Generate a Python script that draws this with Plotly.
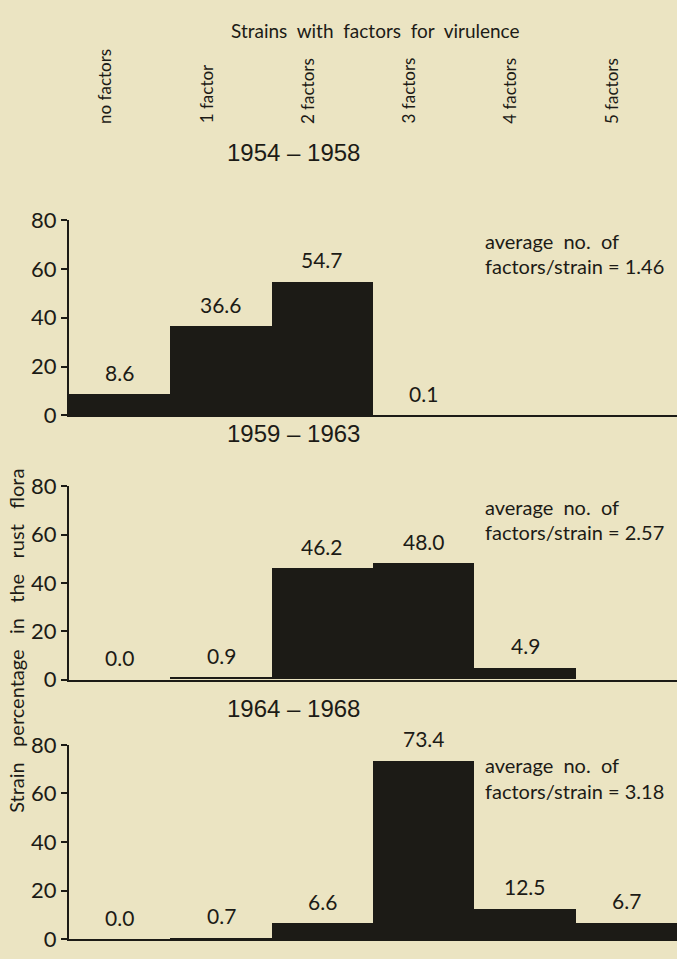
import plotly.graph_objects as go

# ---- data ----
categories = ["no factors", "1 factor", "2 factors", "3 factors", "4 factors", "5 factors"]
periods = ["1954 – 1958", "1959 – 1963", "1964 – 1968"]
values_1954_1958 = [8.6, 36.6, 54.7, 0.1, 0.0, 0.0]
values_1959_1963 = [0.0, 0.9, 46.2, 48.0, 4.9, 0.0]
values_1964_1968 = [0.0, 0.7, 6.6, 73.4, 12.5, 6.7]
value_labels_1954_1958 = ["8.6", "36.6", "54.7", "0.1", "", ""]
value_labels_1959_1963 = ["0.0", "0.9", "46.2", "48.0", "4.9", ""]
value_labels_1964_1968 = ["0.0", "0.7", "6.6", "73.4", "12.5", "6.7"]
averages = ["1.46", "2.57", "3.18"]
y_ticks = [0, 20, 40, 60, 80]

series = [values_1954_1958, values_1959_1963, values_1964_1968]
labels = [value_labels_1954_1958, value_labels_1959_1963, value_labels_1964_1968]

W, H = 677, 959
L = 69
PW = W - L


def fx(px):
    return (px - L) / PW


def fy(py):
    return (H - py) / H


BG = "#ebe4c2"
INK = "#1c1b16"
FONT = "Lato, 'Noto Sans', sans-serif"
YEARFONT = "'Liberation Sans', Arial, sans-serif"

# pixel positions of y=0 and y=80 for each panel
panels_px = [(413, 212), (685, 486), (952, 752)]
title_py = [143, 432, 715]

fig = go.Figure()
centers = [i + 0.5 for i in range(len(categories))]

for k, vals in enumerate(series):
    xa = "x" if k == 0 else f"x{k+1}"
    ya = "y" if k == 0 else f"y{k+1}"
    fig.add_trace(go.Bar(
        x=centers, y=vals, width=1.0,
        marker=dict(color=INK, line=dict(width=0)),
        xaxis=xa, yaxis=ya, showlegend=False, hoverinfo="skip",
    ))
    y0, y80 = panels_px[k]
    dom = [fy(y0), fy(y80)]
    xkey = "xaxis" if k == 0 else f"xaxis{k+1}"
    ykey = "yaxis" if k == 0 else f"yaxis{k+1}"
    fig.update_layout({
        xkey: dict(domain=[0, 1], range=[0, 6], showgrid=False, zeroline=False,
                   showticklabels=False, ticks="", showline=True, linecolor=INK,
                   linewidth=2, anchor=ya, fixedrange=True),
        ykey: dict(domain=dom, range=[0, 80], showgrid=False, zeroline=False,
                   tickvals=y_ticks, ticks="outside", ticklen=6, tickwidth=2,
                   tickcolor=INK, showline=True, linecolor=INK, linewidth=2,
                   tickfont=dict(family=FONT, size=22, color=INK), anchor=xa,
                   fixedrange=True),
    })
    # value labels
    for c, v, t in zip(centers, vals, labels[k]):
        if t:
            fig.add_annotation(x=c, y=v, xref=xa, yref=ya, text=t, showarrow=False,
                               yanchor="middle", yshift=22,
                               font=dict(family=FONT, size=21, color=INK))
    # average annotation
    fig.add_annotation(x=4.09, y=71.5, xref=xa, yref=ya,
                       text="average&nbsp; no.&nbsp; of",
                       showarrow=False, xanchor="left", yanchor="middle",
                       font=dict(family=FONT, size=20, color=INK))
    fig.add_annotation(x=4.09, y=61.0, xref=xa, yref=ya,
                       text=f"factors/strain = {averages[k]}",
                       showarrow=False, xanchor="left", yanchor="middle",
                       font=dict(family=FONT, size=20, color=INK))
    # period title
    fig.add_annotation(x=fx(293), y=fy(title_py[k]), xref="paper", yref="paper",
                       text=periods[k], showarrow=False, xanchor="center",
                       yanchor="middle",
                       font=dict(family=YEARFONT, size=24, color=INK))

# category labels at the top (rotated)
for c, name in zip(centers, categories):
    fig.add_annotation(x=c, y=fy(115), xref="x", yref="paper", text=name,
                       showarrow=False, textangle=-90, xanchor="center",
                       yanchor="bottom", xshift=-15,
                       font=dict(family=FONT, size=17, color=INK))

# top title
fig.add_annotation(x=fx(375), y=fy(17), xref="paper", yref="paper",
                   text="Strains&nbsp; with&nbsp; factors&nbsp; for&nbsp; virulence",
                   showarrow=False, xanchor="center", yanchor="middle",
                   font=dict(family=FONT, size=19, color=INK))

# y-axis title
fig.add_annotation(x=fx(16), y=fy(645), xref="paper", yref="paper",
                   text="Strain&nbsp;&nbsp; percentage&nbsp;&nbsp; in&nbsp;&nbsp; the&nbsp;&nbsp; rust&nbsp;&nbsp; flora",
                   showarrow=False, textangle=-90, xanchor="center", yanchor="middle",
                   font=dict(family=FONT, size=20, color=INK))

fig.update_layout(
    width=W, height=H,
    margin=dict(l=L, r=0, t=0, b=0),
    paper_bgcolor=BG, plot_bgcolor=BG,
    bargap=0,
)

fig.write_html("out.html",
               config={"displayModeBar": False},
               post_script="document.body.style.margin='0';document.body.style.overflow='hidden';")
